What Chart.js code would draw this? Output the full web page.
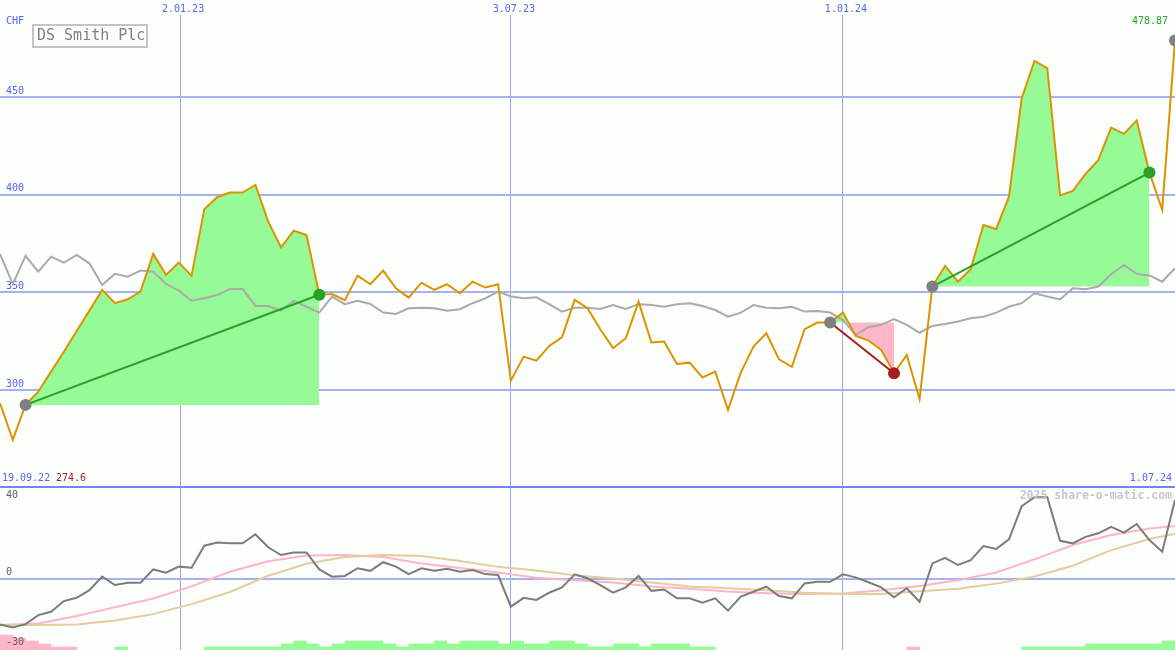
<!DOCTYPE html>
<html>
<head>
<meta charset="utf-8">
<title>DS Smith Plc</title>
<script src="https://cdn.jsdelivr.net/npm/chart.js@4.4.1/dist/chart.umd.min.js"></script>
<style>
  html, body { margin: 0; padding: 0; background: #fcfefc; }
  #wrap { width: 1175px; height: 650px; position: relative; }
</style>
</head>
<body>
<div id="wrap"><canvas id="chart"></canvas></div>
<script>
const canvas = document.getElementById("chart");
const ctx = canvas.getContext("2d");

// weekly closes in CHF, week 0 = 19.09.22
const price = [293.3, 274.6, 292.5, 299.3, 309.5, 319.7, 330.3, 340.7, 351.3, 344.5,
  346.5, 350.4, 369.7, 359.0, 365.3, 358.6, 392.6, 398.7, 401.1, 401.1,
  405.0, 386.2, 373.1, 381.6, 379.4, 348.8, 349.2, 346.0, 358.6, 354.2,
  361.2, 352.1, 347.4, 355.0, 351.3, 354.2, 349.6, 355.5, 352.5, 354.2,
  304.9, 317.2, 315.1, 322.6, 327.0, 346.2, 341.9, 331.2, 321.5, 326.6,
  345.3, 324.4, 324.9, 313.4, 314.1, 306.5, 309.5, 289.9, 309.0, 322.3,
  329.1, 315.8, 312.0, 331.2, 334.6, 334.6, 339.7, 327.7, 325.4, 320.6,
  308.7, 318.0, 295.4, 353.0, 363.6, 355.5, 361.9, 384.5, 382.5, 399.0,
  449.3, 468.4, 464.7, 399.6, 401.9, 410.6, 417.8, 434.3, 431.1, 437.9,
  411.3, 392.2, 478.87];

// comparison index, rebased to CHF
const compare = [369.7, 354.3, 368.7, 360.6, 368.3, 365.2, 369.2, 364.9, 353.8, 359.5,
  358.1, 361.2, 360.6, 354.3, 350.9, 345.8, 347.0, 348.7, 351.8, 351.8,
  343.1, 343.1, 340.7, 345.7, 342.7, 339.7, 347.9, 344.0, 345.7, 344.1,
  339.7, 339.0, 341.9, 342.2, 341.9, 340.7, 341.4, 344.5, 347.0, 350.4,
  347.9, 347.0, 347.5, 344.0, 340.2, 342.2, 342.2, 341.6, 343.6, 341.6,
  344.0, 343.6, 342.7, 344.0, 344.5, 343.1, 341.0, 337.6, 339.7, 343.6,
  342.2, 341.9, 342.7, 340.2, 340.5, 339.7, 335.9, 328.3, 332.2, 333.4,
  336.4, 333.4, 329.4, 332.9, 333.9, 335.1, 336.8, 337.6, 339.7, 342.7,
  344.5, 349.6, 347.9, 346.4, 352.1, 351.6, 353.0, 359.3, 364.1, 359.5,
  358.7, 355.5, 362.4];

// lower panel oscillator
const osc = [-19.6, -20.9, -19.5, -15.6, -14.2, -9.6, -8.2, -4.9, 0.9, -2.7,
  -1.7, -1.7, 4.0, 2.6, 5.2, 4.7, 14.2, 15.6, 15.2, 15.2,
  19.1, 13.5, 10.2, 11.3, 11.3, 4.0, 0.9, 1.2, 4.5, 3.4,
  7.1, 5.2, 2.0, 4.5, 3.4, 4.3, 3.0, 3.7, 2.0, 1.6,
  -12.0, -8.2, -9.1, -6.0, -3.7, 1.9, 0.2, -2.7, -6.0, -3.7,
  1.2, -5.2, -4.6, -8.4, -8.4, -10.3, -8.4, -13.7, -7.7, -5.6,
  -3.4, -7.4, -8.4, -2.0, -1.3, -1.3, 1.9, 0.6, -1.5, -3.7,
  -8.0, -4.1, -9.9, 6.6, 9.0, 5.9, 8.0, 14.0, 12.8, 16.9,
  31.2, 35.0, 35.0, 16.3, 15.2, 18.0, 19.5, 22.3, 19.8, 23.5,
  16.6, 11.6, 33.8];

// smoothed averages of the oscillator, read every third week
const maIdx = [0, 3, 6, 9, 12, 15, 18, 21, 24, 27, 30, 33, 36, 39, 42, 45,
  48, 51, 54, 57, 60, 63, 66, 69, 72, 75, 78, 81, 84, 87, 90, 92];
const maFast = [-19.9, -19.2, -16.0, -12.2, -8.5, -3.3, 3.0, 7.5, 10.0, 10.2, 9.3, 6.5, 4.6, 2.7, 0.4, -0.6,
  -1.6, -3.3, -4.3, -5.5, -6.2, -6.6, -6.3, -4.9, -3.1, -0.6, 2.7, 8.3, 14.5, 18.8, 21.6, 22.6];
const maSlow = [-19.9, -19.9, -19.7, -17.9, -15.2, -10.9, -5.7, 1.3, 6.4, 9.3, 10.2, 9.8, 7.6, 5.1, 3.5, 1.5,
  0.1, -1.6, -3.3, -4.1, -4.9, -6.0, -6.6, -6.6, -5.4, -4.3, -2.1, 1.0, 5.6, 12.3, 17.1, 19.3];

// signal strength per week (positive green, negative pink)
const barLevels = [-5, -4, -3, -2, -1, -1, 0, 0, 0, 1,
  0, 0, 0, 0, 0, 0, 1, 1, 1, 1,
  1, 1, 2, 3, 2, 1, 2, 3, 3, 3,
  2, 1, 2, 2, 3, 2, 3, 3, 3, 2,
  3, 2, 2, 3, 3, 2, 1, 1, 2, 2,
  1, 2, 2, 2, 1, 1, 0, 0, 0, 0,
  0, 0, 0, 0, 0, 0, 0, 0, 0, 0,
  0, -1, 0, 0, 0, 0, 0, 0, 0, 0,
  1, 1, 1, 1, 1, 2, 2, 2, 2, 2,
  2, 3];
const barStep = 1.29;

// trades: week of buy and week of sell
const buyIdx = [2, 65, 73];
const sellIdx = [25, 70, 90];

const dateTickPos = [14.1, 40, 66];
const dateLabels = ["2.01.23", "3.07.23", "1.01.24"];
const priceTicks = [300, 350, 400, 450];
const oscLabels = [40, 0, -30];
const startLabel = "19.09.22";
const endLabel = "1.07.24";
const title = "DS Smith Plc";
const currency = "CHF";

// colours
const BLUE = "#5566ee";
const GRID = "#a4b2f2";
const VGRID = "#97a8f6";
const SEP = "#7384ee";
const ORANGE = "#dd9300";
const GREY_LINE = "#aaaaaa";
const FILL_GREEN = "#96fa96";
const FILL_PINK = "#ffb6c9";
const WIN = "#27a127";
const LOSS = "#a51e1e";
const DOT_GREY = "#808080";

const priceMin = 250.5, priceMax = 491.9;
const oscMin = -30.6, oscMax = 39.4;
const xMax = 92;

Chart.defaults.font.family = "'DejaVu Sans Mono', monospace";
Chart.defaults.font.size = 10;

const pts = (arr) => arr.map((v, i) => ({ x: i, y: v }));

const datasets = [];

// filled areas of each trade, against the buy price
buyIdx.forEach((b, k) => {
  const s = sellIdx[k];
  datasets.push({
    type: "line", yAxisID: "y", order: 10,
    data: price.map((v, i) => ({ x: i, y: (i >= b && i <= s) ? v : null })),
    borderWidth: 0, borderColor: "rgba(0,0,0,0)", pointRadius: 0,
    fill: { target: { value: price[b] }, above: FILL_GREEN, below: FILL_PINK },
  });
});

// signal bars at the bottom
const barData = (sign) => barLevels
  .map((lv, i) => (lv * sign > 0 ? { x: i + 0.5, y: [oscMin, oscMin + Math.abs(lv) * barStep] } : null))
  .filter(Boolean);
datasets.push({
  type: "bar", yAxisID: "y2", order: 9, data: barData(1),
  backgroundColor: FILL_GREEN, borderWidth: 0, grouped: false,
  barPercentage: 1, categoryPercentage: 1,
});
datasets.push({
  type: "bar", yAxisID: "y2", order: 9, data: barData(-1),
  backgroundColor: FILL_PINK, borderWidth: 0, grouped: false,
  barPercentage: 1, categoryPercentage: 1,
});

datasets.push({
  type: "line", yAxisID: "y", order: 8, data: pts(compare),
  borderColor: GREY_LINE, borderWidth: 2, pointRadius: 0,
});

datasets.push({
  type: "line", yAxisID: "y2", order: 7,
  data: maIdx.map((ix, k) => ({ x: ix, y: maSlow[k] })),
  borderColor: "#e4cc9e", borderWidth: 2, pointRadius: 0,
});
datasets.push({
  type: "line", yAxisID: "y2", order: 7,
  data: maIdx.map((ix, k) => ({ x: ix, y: maFast[k] })),
  borderColor: "#ffb4c8", borderWidth: 2, pointRadius: 0,
});
datasets.push({
  type: "line", yAxisID: "y2", order: 6, data: pts(osc),
  borderColor: "#7c7c7c", borderWidth: 2, pointRadius: 0,
});

datasets.push({
  type: "line", yAxisID: "y", order: 5, data: pts(price),
  borderColor: ORANGE, borderWidth: 2, pointRadius: 0,
});

// straight line from buy to sell
buyIdx.forEach((b, k) => {
  const s = sellIdx[k];
  datasets.push({
    type: "line", yAxisID: "y", order: 3,
    data: [{ x: b, y: price[b] }, { x: s, y: price[s] }],
    borderColor: price[s] >= price[b] ? WIN : LOSS, borderWidth: 2, pointRadius: 0,
  });
});

// buy / sell markers and the latest close
const dotPts = [], dotColors = [];
buyIdx.forEach((b, k) => {
  const s = sellIdx[k];
  dotPts.push({ x: b, y: price[b] }); dotColors.push(DOT_GREY);
  dotPts.push({ x: s, y: price[s] }); dotColors.push(price[s] >= price[b] ? WIN : LOSS);
});
const last = price.length - 1;
dotPts.push({ x: last, y: price[last] }); dotColors.push(DOT_GREY);
datasets.push({
  type: "line", yAxisID: "y", order: 1, data: dotPts, showLine: false,
  pointRadius: 6, pointHoverRadius: 6, pointBorderWidth: 0,
  pointBackgroundColor: dotColors,
});

// texts that are not axis ticks
const labelsPlugin = {
  id: "panelLabels",
  afterDraw(chart) {
    const c = chart.ctx;
    const y2 = chart.scales.y2;
    c.save();
    c.textBaseline = "middle";
    c.font = "10px 'DejaVu Sans Mono'";

    c.fillStyle = BLUE;
    c.textAlign = "left";
    c.fillText(currency, 6, 21);

    c.strokeStyle = "#c4c4c4";
    c.lineWidth = 2;
    c.strokeRect(33, 25, 114, 22);
    c.fillStyle = "#808080";
    c.font = "15px 'DejaVu Sans Mono'";
    c.fillText(title, 37, 36.5);

    c.font = "10px 'DejaVu Sans Mono'";
    c.fillStyle = WIN;
    c.textAlign = "right";
    c.fillText(price[last].toFixed(2), 1168, 21);

    c.textAlign = "left";
    c.fillStyle = BLUE;
    c.fillText(startLabel, 2, 478);
    c.fillStyle = LOSS;
    c.fillText(Math.min(...price).toFixed(1), 56, 478);
    c.fillStyle = BLUE;
    c.textAlign = "right";
    c.fillText(endLabel, 1172, 478);

    c.fillStyle = "#606060";
    c.textAlign = "left";
    oscLabels.forEach((v) => {
      let py = y2.getPixelForValue(v) - 6;
      py = Math.max(y2.top + 8, Math.min(y2.bottom - 8, py));
      c.fillText(String(v), 6, py);
    });

    c.fillStyle = "#c8c8c8";
    c.textAlign = "right";
    c.font = "bold 11.5px 'DejaVu Sans Mono'";
    c.fillText("2025 share-o-matic.com", 1172, 496);
    c.restore();
  },
};

// keep the axes from eating into the plot area
const flatX = (axis) => { axis.height = 15; axis.paddingLeft = 0; axis.paddingRight = 0; };
const flatY = (axis) => { axis.width = 0; axis.paddingTop = 0; axis.paddingBottom = 0; };

new Chart(ctx, {
  data: { datasets },
  plugins: [labelsPlugin],
  options: {
    responsive: true,
    maintainAspectRatio: false,
    animation: false,
    events: [],
    layout: { padding: 0, autoPadding: false },
    plugins: { legend: { display: false }, tooltip: { enabled: false } },
    elements: { line: { tension: 0 } },
    scales: {
      x: {
        type: "linear", position: "top", min: 0, max: xMax, offset: false,
        afterBuildTicks: (axis) => { axis.ticks = dateTickPos.map((v) => ({ value: v })); },
        afterFit: flatX,
        ticks: {
          autoSkip: false, maxRotation: 0, padding: 0, labelOffset: 3, color: BLUE,
          callback: (v, i) => dateLabels[i],
        },
        grid: { color: VGRID, lineWidth: 1, drawTicks: false, offset: false },
        border: { display: false },
      },
      y: {
        type: "linear", position: "left", stack: "panels", stackWeight: 472, weight: 2,
        min: priceMin, max: priceMax,
        afterBuildTicks: (axis) => { axis.ticks = priceTicks.map((v) => ({ value: v })); },
        afterFit: flatY,
        ticks: { mirror: true, padding: 6, labelOffset: -6, color: BLUE },
        grid: { color: GRID, lineWidth: 2, drawTicks: false },
        border: { display: false },
      },
      y2: {
        type: "linear", position: "left", stack: "panels", stackWeight: 163, weight: 1,
        min: oscMin, max: oscMax,
        afterBuildTicks: (axis) => { axis.ticks = [{ value: oscMax }, { value: 0 }]; },
        afterFit: flatY,
        ticks: { display: false },
        grid: {
          color: (c) => (c.tick && c.tick.value === 0 ? GRID : SEP),
          lineWidth: 2, drawTicks: false,
        },
        border: { display: false },
      },
    },
  },
});
</script>
</body>
</html>
